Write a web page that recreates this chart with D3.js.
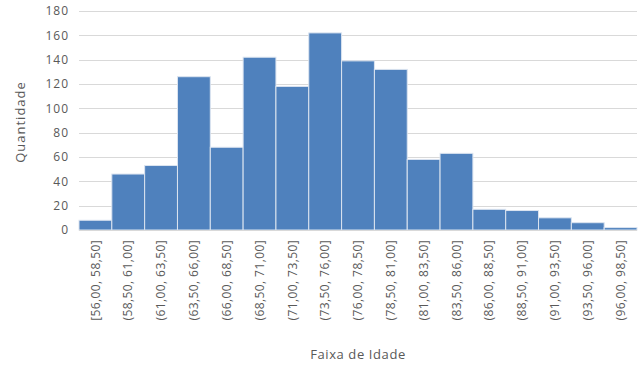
<!DOCTYPE html>
<html lang="pt">
<head>
<meta charset="utf-8">
<title>Faixa de Idade</title>
<script src="https://cdn.jsdelivr.net/npm/d3@7"></script>
<style>
  body { margin: 0; background: #fff; }
  svg text { font-family: "Open Sans", sans-serif; fill: #595959; }
  .grid line { stroke: #d9d9d9; }
  .bar { fill: #4f81bd; stroke: #dbe4f0; stroke-width: 1; }
</style>
</head>
<body>
<svg width="642" height="365"></svg>
<script>
var faixas = ["[56,00, 58,50]", "(58,50, 61,00]", "(61,00, 63,50]", "(63,50, 66,00]",
  "(66,00, 68,50]", "(68,50, 71,00]", "(71,00, 73,50]", "(73,50, 76,00]",
  "(76,00, 78,50]", "(78,50, 81,00]", "(81,00, 83,50]", "(83,50, 86,00]",
  "(86,00, 88,50]", "(88,50, 91,00]", "(91,00, 93,50]", "(93,50, 96,00]",
  "(96,00, 98,50]"];
var quantidade = [8, 46, 53, 126, 68, 142, 118, 162, 139, 132, 58, 63, 17, 16, 10, 6, 2];
var yTicks = [0, 20, 40, 60, 80, 100, 120, 140, 160, 180];

var svg = d3.select("svg");
var plotLeft = 79, plotRight = 637, plotTop = 11, plotBottom = 230;

var x = d3.scaleBand().domain(faixas).range([plotLeft, plotRight]).padding(0);
var y = d3.scaleLinear().domain([0, 180]).range([plotBottom, plotTop]);

// grid
svg.append("g").attr("class", "grid")
  .selectAll("line").data(yTicks.slice(1)).enter().append("line")
  .attr("x1", plotLeft).attr("x2", plotRight)
  .attr("y1", function(d) { return Math.round(y(d)) + 0.5; })
  .attr("y2", function(d) { return Math.round(y(d)) + 0.5; });

// y axis labels
var ya = svg.append("g").attr("transform", "translate(" + (plotLeft - 4) + ",0)")
  .call(d3.axisLeft(y).tickValues(yTicks).tickSize(0).tickPadding(6));
ya.select(".domain").remove();
ya.selectAll("text").style("font-size", "12px").style("letter-spacing", "1px")
  .attr("fill", "#595959");

// bars
svg.selectAll(".bar").data(quantidade).enter().append("rect")
  .attr("class", "bar")
  .attr("x", function(d, i) { return x(faixas[i]); })
  .attr("width", x.bandwidth())
  .attr("y", function(d) { return y(d); })
  .attr("height", function(d) { return plotBottom - y(d); });

// baseline
svg.append("line").attr("x1", plotLeft).attr("x2", plotRight)
  .attr("y1", plotBottom + 0.5).attr("y2", plotBottom + 0.5)
  .attr("stroke", "#d9d9d9");

// x axis labels
var xa = svg.append("g").attr("transform", "translate(0," + plotBottom + ")")
  .call(d3.axisBottom(x).tickSize(0));
xa.select(".domain").remove();
xa.selectAll("text")
  .style("font-size", "12px").style("letter-spacing", "0.4px").attr("fill", "#595959")
  .attr("text-anchor", "end")
  .attr("transform", "rotate(-90)")
  .attr("x", -10).attr("y", 0).attr("dy", "0.35em");

// titles
svg.append("text").attr("x", 358).attr("y", 359)
  .attr("text-anchor", "middle").style("font-size", "13px").style("letter-spacing", "0.6px")
  .text("Faixa de Idade");
svg.append("text").attr("transform", "translate(25,122) rotate(-90)")
  .attr("text-anchor", "middle").style("font-size", "13px").style("letter-spacing", "1px")
  .text("Quantidade");
</script>
</body>
</html>
